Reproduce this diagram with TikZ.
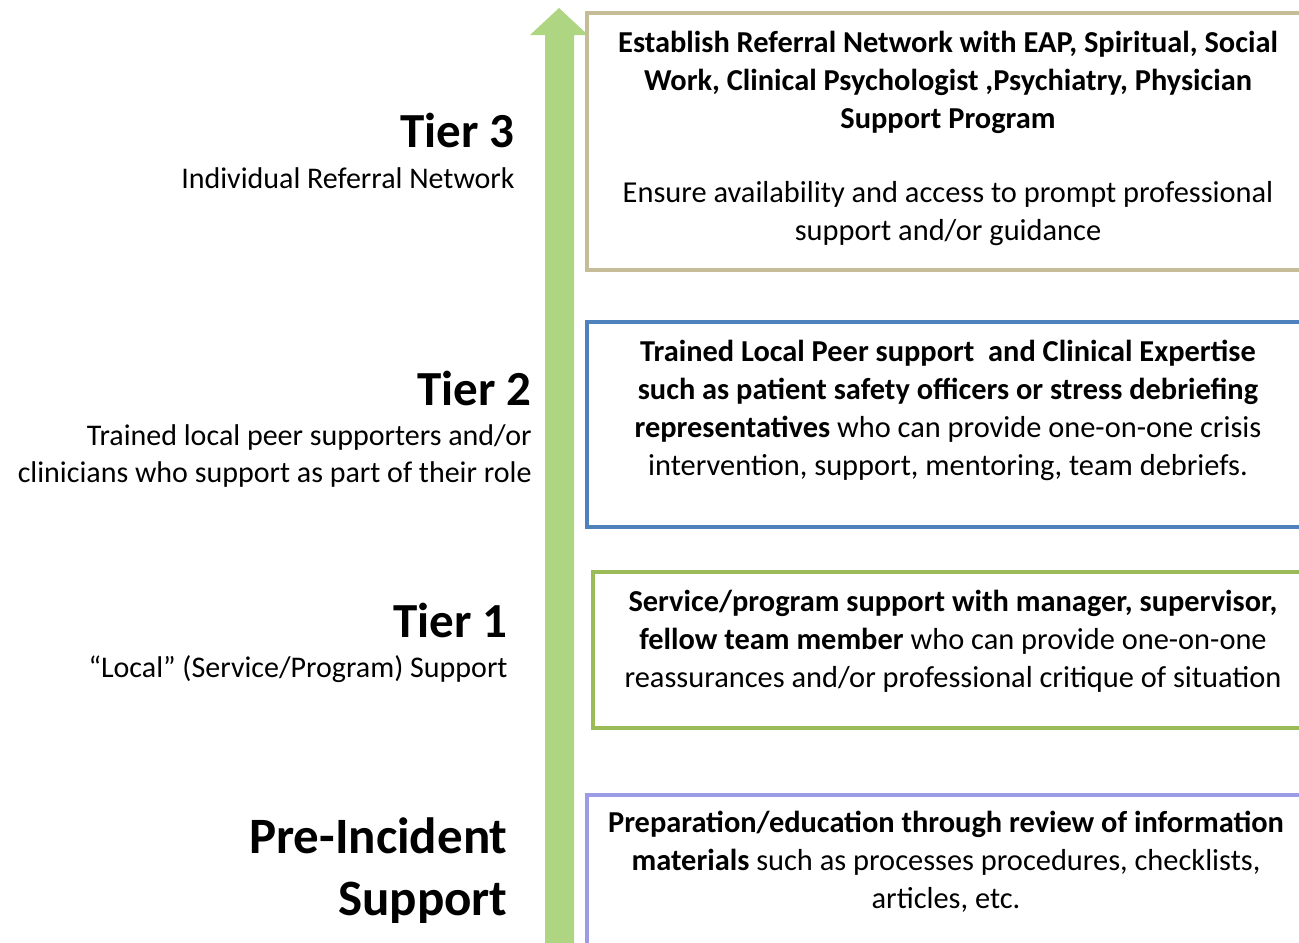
\documentclass[tikz,border=0pt]{standalone}
\usepackage{fontspec}
\setmainfont{Carlito}
\usepackage{xcolor}
\usetikzlibrary{arrows.meta,calc}
\definecolor{arrowgreen}{HTML}{AED581}
\definecolor{tanline}{HTML}{C4BD97}
\definecolor{blueline}{HTML}{4F81BD}
\definecolor{greenline}{HTML}{9BBB59}
\definecolor{violetline}{HTML}{9C9CE6}
\tikzset{
  tierbox/.style={line width=2pt},
  boxtext/.style={align=center, font=\fontsize{15.2}{19}\selectfont, inner sep=0pt},
  tiername/.style={anchor=east, align=right, font=\fontsize{24.5}{30}\selectfont\bfseries, inner sep=0pt},
  tiernote/.style={anchor=east, align=right, font=\fontsize{15}{18.5}\selectfont, inner sep=0pt}
}

\begin{document}
\begin{tikzpicture}[x=0.5pt,y=-0.5pt]
  \useasboundingbox (0,0) rectangle (1299,942);
  \clip (0,0) rectangle (1299,942);
  % rising arrow
  \fill[arrowgreen] (545,950) -- (545,35) -- (530,35) -- (559,8) -- (588,35) -- (574,35) -- (574,950) -- cycle;
  % boxes
  \draw[tierbox, draw=tanline] (587,13) rectangle (1320,270);
  \draw[tierbox, draw=blueline] (587,322) rectangle (1320,527);
  \draw[tierbox, draw=greenline] (593,572) rectangle (1320,728);
  \draw[tierbox, draw=violetline] (587,795) rectangle (1320,960);
  % box texts
  \node[boxtext] (t3head) at (948,82) {\bfseries Establish Referral Network with EAP, Spiritual, Social\\ \bfseries Work, Clinical Psychologist ,Psychiatry, Physician\\ \bfseries Support Program};
  \node[boxtext] (t3body) at (948,214) {Ensure availability and access to prompt professional\\ support and/or guidance};
  \node[boxtext] (t2text) at (948,410) {\bfseries Trained Local Peer support\ \ and Clinical Expertise\\ \bfseries such as patient safety officers or stress debriefing\\ \textbf{representatives} who can provide one-on-one crisis\\ intervention, support, mentoring, team debriefs.};
  \node[boxtext] (t1text) at (953,641) {\bfseries Service/program support with manager, supervisor,\\ \textbf{fellow team member} who can provide one-on-one\\ reassurances and/or professional critique of situation};
  \node[boxtext] (pretext) at (946,862) {\bfseries Preparation/education through review of information\\ \textbf{materials} such as processes procedures, checklists,\\ articles, etc.};
  % tier labels
  \node[tiername] (t3name) at (515,130) {Tier 3};
  \node[tiernote] (t3note) at (515,178) {Individual Referral Network};
  \node[tiername] (t2name) at (532,388) {Tier 2};
  \node[tiernote] (t2note) at (532,456) {Trained local peer supporters and/or\\ clinicians who support as part of their role};
  \node[tiername] (t1name) at (508,620) {Tier 1};
  \node[tiernote] (t1note) at (508,669) {``Local'' (Service/Program) Support};
  \node[tiername, font=\fontsize{25.5}{31}\selectfont\bfseries] (prename) at (508,871) {Pre-Incident\\ Support};
\end{tikzpicture}
\end{document}
